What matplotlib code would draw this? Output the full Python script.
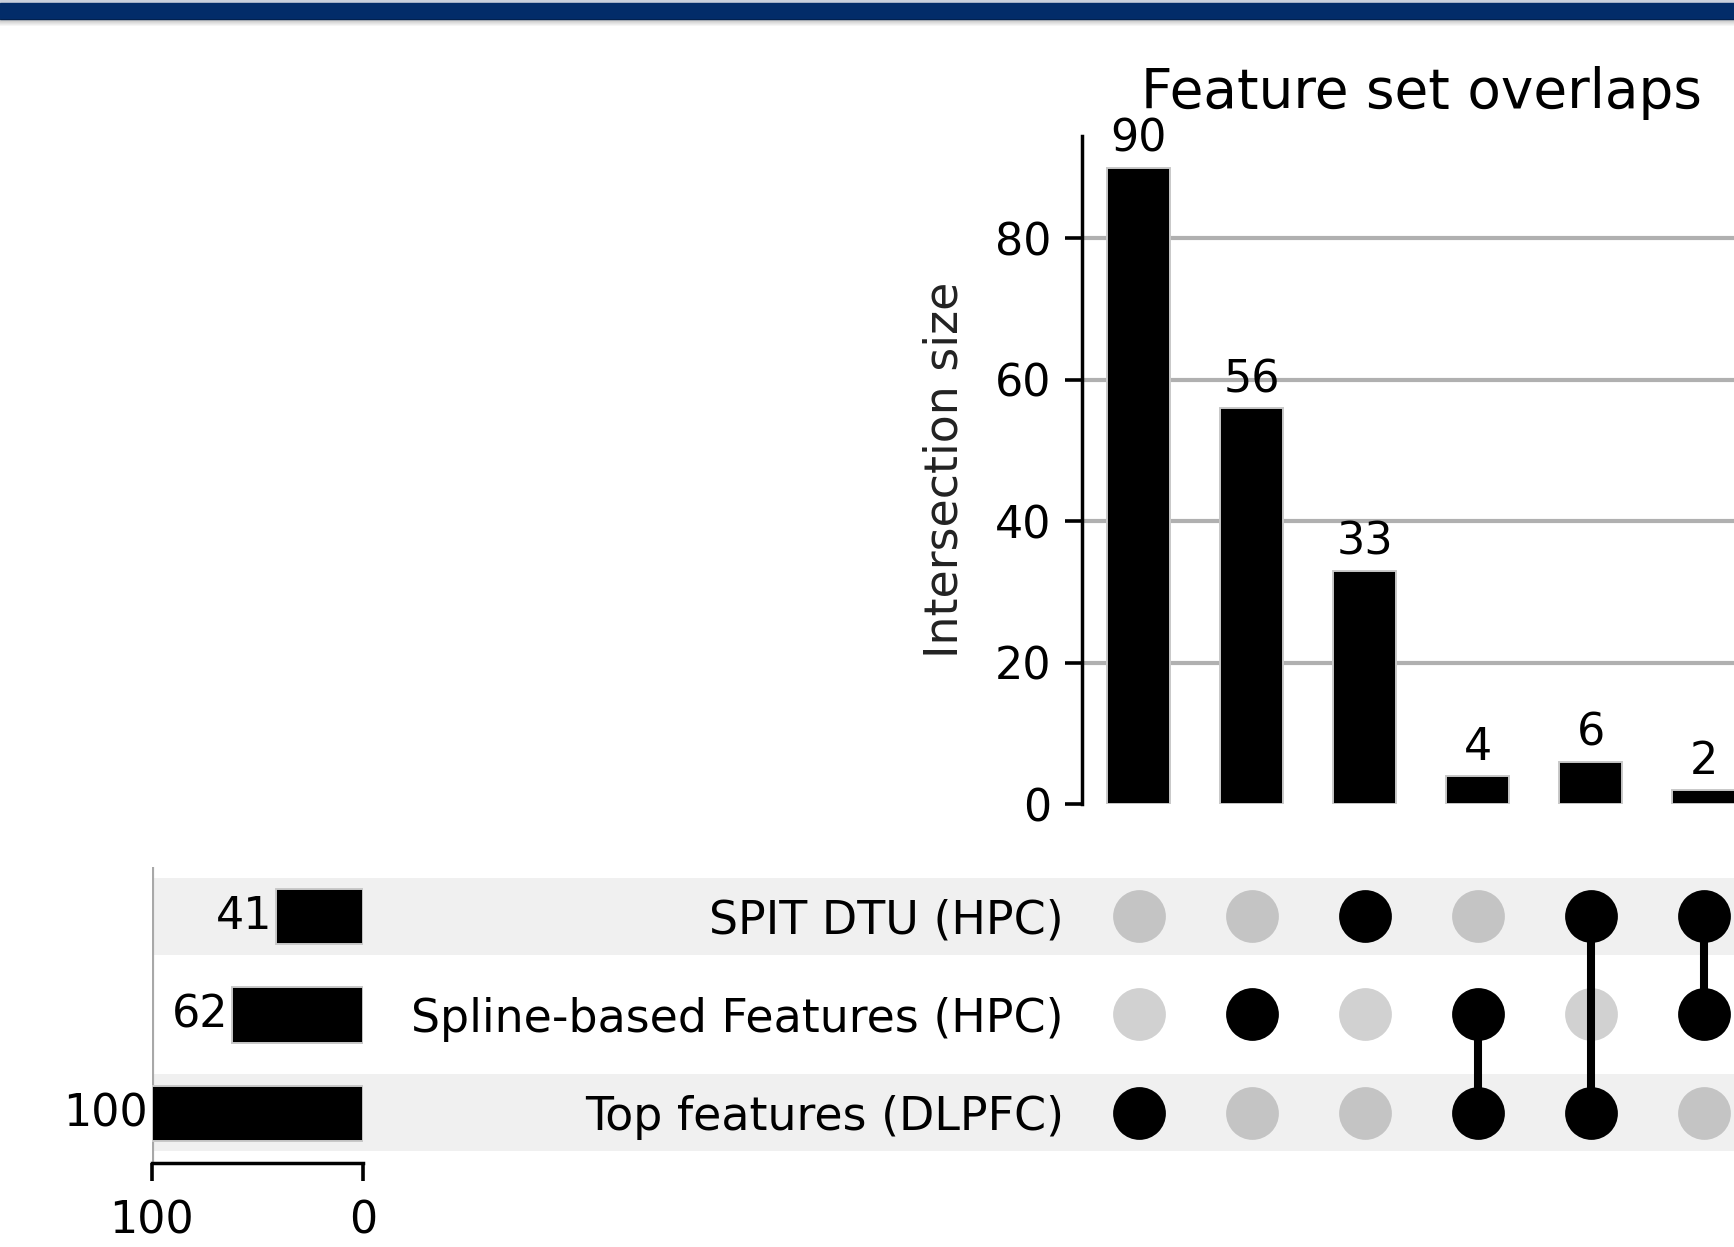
import matplotlib
matplotlib.use("Agg")
import matplotlib.pyplot as plt
import numpy as np
from matplotlib.patches import Rectangle

plt.rcParams["font.family"] = ["DejaVu Sans"]

# sets, listed top to bottom in the matrix
set_names = ["SPIT DTU (HPC)", "Spline-based Features (HPC)", "Top features (DLPFC)"]
set_totals = [41, 62, 100]

# intersections: membership flags (top, middle, bottom) and their sizes
memberships = [
    (0, 0, 1),
    (0, 1, 0),
    (1, 0, 0),
    (0, 1, 1),
    (1, 0, 1),
    (1, 1, 0),
]
intersection_sizes = [90, 56, 33, 4, 6, 2]

title = "Feature set overlaps"
ylabel = "Intersection size"

W, H = 1734, 1247
fig = plt.figure(figsize=(W / 100, H / 100), dpi=100)


def px_axes(left, top, right, bottom, **kw):
    return fig.add_axes([left / W, 1 - bottom / H, (right - left) / W, (bottom - top) / H], **kw)


n_sets = len(set_names)
n_cols = len(intersection_sizes)
row_y = np.arange(n_sets)[::-1]  # top row gets highest y
cols = np.arange(n_cols)

# header band
fig.patches.append(Rectangle((0, 1 - 3 / H), 1, 3 / H, transform=fig.transFigure,
                             color="#c9d0dc", zorder=0))
fig.patches.append(Rectangle((0, 1 - 19 / H), 1, 16 / H, transform=fig.transFigure,
                             color="#022c69", zorder=1))
for k in range(7):
    fig.patches.append(Rectangle((0, 1 - (20 + k) / H), 1, 1 / H, transform=fig.transFigure,
                                 color="black", alpha=0.25 * (1 - k / 7), lw=0, zorder=1))

# row shading behind totals, labels and matrix
ax_bg = px_axes(152, 867, 1760, 1162, zorder=0)
ax_bg.set_xlim(0, 1)
ax_bg.set_ylim(-0.5, n_sets - 0.5)
ax_bg.axis("off")
for i, y in enumerate(row_y):
    if i % 2 == 0:
        ax_bg.axhspan(y - 0.39, y + 0.39, color="#f0f0f0", lw=0)

# intersection size bars
ax_bar = px_axes(1082, 136, 1760, 804, zorder=2)
ax_bar.set_facecolor("none")
ax_bar.bar(cols, intersection_sizes, width=0.55, color="black",
           edgecolor="#c8c8c8", linewidth=1.4, zorder=3)
for x, v in zip(cols, intersection_sizes):
    ax_bar.annotate(str(v), (x, v), xytext=(0, 5), textcoords="offset points",
                    ha="center", va="bottom", fontsize=32)
ax_bar.set_xlim(-0.5, n_cols - 0.5)
ax_bar.set_ylim(0, max(intersection_sizes) * 1.05)
ax_bar.set_yticks(np.arange(0, 81, 20))
ax_bar.set_xticks([])
for s in ["top", "right", "bottom"]:
    ax_bar.spines[s].set_visible(False)
ax_bar.spines["left"].set_linewidth(2.5)
ax_bar.tick_params(axis="y", labelsize=32, length=12, width=2.6, pad=10)
ax_bar.yaxis.grid(True, color="#b0b0b0", linewidth=3)
ax_bar.get_ygridlines()[0].set_visible(False)
ax_bar.set_axisbelow(True)
ax_bar.set_ylabel(ylabel, fontsize=33, color="#222222", labelpad=20)
ax_bar.set_title(title, fontsize=39.5, pad=20)

# membership matrix
ax_mat = px_axes(1082, 867, 1760, 1162, zorder=2)
ax_mat.set_facecolor("none")
for x, flags in zip(cols, memberships):
    on = [row_y[i] for i, f in enumerate(flags) if f]
    off = [row_y[i] for i, f in enumerate(flags) if not f]
    ax_mat.plot([x] * len(off), off, "o", ms=38, color="black", alpha=0.18,
                markeredgewidth=0, zorder=2)
    if len(on) > 1:
        ax_mat.plot([x, x], [min(on), max(on)], color="black", lw=5.8, zorder=3)
    ax_mat.plot([x] * len(on), on, "o", ms=38, color="black",
                markeredgewidth=0, zorder=4)
ax_mat.set_xlim(-0.5, n_cols - 0.5)
ax_mat.set_ylim(-0.5, n_sets - 0.5)
ax_mat.set_xticks([])
ax_mat.set_yticks(row_y)
ax_mat.set_yticklabels(set_names, fontsize=33)
ax_mat.tick_params(axis="y", length=0, pad=13)
for s in ax_mat.spines.values():
    s.set_visible(False)

# set size totals, drawn right-to-left
ax_tot = px_axes(152, 867, 363, 1163, zorder=2)
ax_tot.set_facecolor("none")
ax_tot.barh(row_y, set_totals, height=0.56, color="black",
            edgecolor="#c8c8c8", linewidth=1.4, zorder=3)
for y, v in zip(row_y, set_totals):
    ax_tot.annotate(str(v), (v, y), xytext=(-3, 0), textcoords="offset points",
                    ha="right", va="center", fontsize=32)
ax_tot.set_xlim(max(set_totals), 0)
ax_tot.set_ylim(-0.5, n_sets - 0.5)
ax_tot.set_xticks([max(set_totals), 0])
ax_tot.set_yticks([])
for s in ["top", "right", "left"]:
    ax_tot.spines[s].set_visible(False)
ax_tot.spines["bottom"].set_linewidth(2.5)
ax_tot.tick_params(axis="x", labelsize=32, length=13, width=2.6, pad=13)
ax_tot.xaxis.grid(True, color="#a8a8a8", linewidth=3)
ax_tot.get_xgridlines()[1].set_visible(False)
ax_tot.set_axisbelow(True)

fig.savefig("out.png", dpi=100, facecolor="white")
